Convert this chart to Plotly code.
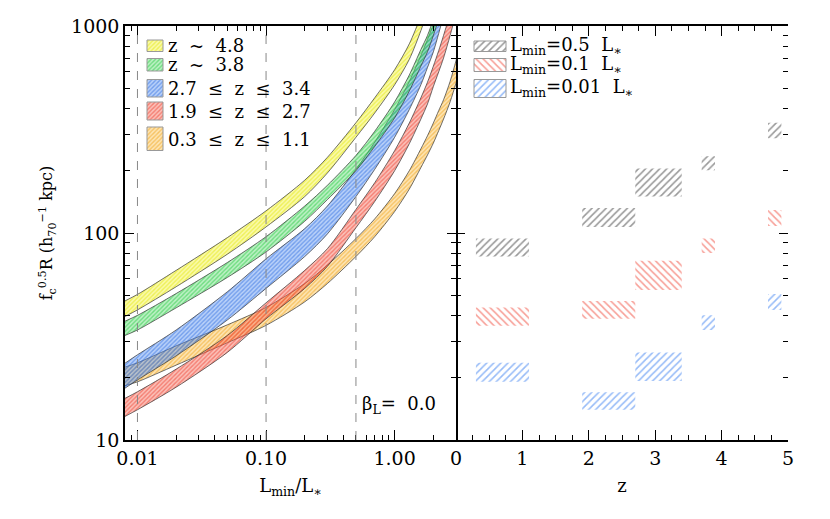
import numpy as np
import plotly.graph_objects as go

# === DATA ===
# left panel: band edges vs L_min/L*
lmin = [0.008, 0.01, 0.02, 0.05, 0.1, 0.2, 0.3, 0.5, 0.7, 1.0, 1.3, 1.6, 1.8, 2.0, 2.2, 2.4, 2.7, 3.0, 3.3]

yellow_hi = [47, 50.5, 66, 95, 128, 180, 232, 341, 450, 615, 820, 1120, 1400, 1750, 2200, 2700, 3500, 4500, 5500]
yellow_lo = [39.5, 42.5, 55, 79, 107, 150, 195, 290, 380, 520, 690, 950, 1180, 1500, 1850, 2300, 3000, 3800, 4700]
green_hi = [37.5, 40, 51, 72, 96, 135, 170, 237, 310, 430, 580, 770, 900, 1080, 1300, 1550, 2000, 2500, 3100]
green_lo = [32, 34, 43.5, 61, 81, 114, 145, 200, 262, 360, 485, 640, 750, 900, 1080, 1300, 1650, 2100, 2600]
blue_hi = [23.5, 25.8, 34, 52, 75, 105, 135, 203, 275, 395, 540, 720, 860, 1020, 1220, 1450, 1850, 2300, 2800]
blue_lo = [17.8, 19.5, 25.5, 38, 54, 77, 99, 150, 203, 290, 395, 520, 630, 750, 920, 1120, 1450, 1850, 2300]
red_hi = [15.9, 17.1, 22, 32, 46, 66, 84, 130, 175, 250, 340, 450, 535, 640, 760, 900, 1150, 1450, 1800]
red_lo = [13.0, 14.0, 18, 26.5, 38.5, 54, 69, 106, 142, 200, 270, 355, 420, 510, 600, 700, 900, 1150, 1450]
orange_hi = [22.5, 23.6, 28.5, 36, 43.7, 57, 70, 94, 117, 155, 200, 255, 295, 340, 390, 440, 540, 680, 860]
orange_lo = [18.3, 19.1, 23, 29.5, 35.8, 46.5, 57, 77, 96, 127, 163, 207, 238, 272, 312, 355, 430, 530, 660]

band_labels = ["z  ~  4.8", "z  ~  3.8", "2.7  ≤  z  ≤  3.4", "1.9  ≤  z  ≤  2.7", "0.3  ≤  z  ≤  1.1"]

# right panel: redshift bins and values at three L_min
z_lo = [0.3, 1.9, 2.7, 3.7, 4.7]
z_hi = [1.1, 2.7, 3.4, 3.9, 4.9]
r05_lo = [77, 107, 150, 201, 287]
r05_hi = [94, 132, 205, 235, 341]
r01_lo = [35.6, 38.5, 53, 80, 108]
r01_hi = [43.7, 47, 73.5, 94, 129]
r001_lo = [19.1, 14, 19.3, 34, 42.5]
r001_hi = [23.6, 17, 26.5, 40, 50.7]

lmin_labels = ["L<sub>min</sub>=0.5  L<sub>∗</sub>", "L<sub>min</sub>=0.1  L<sub>∗</sub>", "L<sub>min</sub>=0.01  L<sub>∗</sub>"]
lmin_marks = [0.01, 0.1, 0.5]

# === STYLE ===
FONT = "DejaVu Serif"
band_style = [
    ("#e2e600", "rgba(245,245,70,0.45)"),
    ("#1ec83a", "rgba(90,220,110,0.40)"),
    ("#2a6ae0", "rgba(80,140,240,0.40)"),
    ("#ee3a2a", "rgba(245,100,80,0.40)"),
    ("#f0a010", "rgba(250,190,70,0.40)"),
]
rect_style = [("#333333", "/"), ("#f04030", "\\"), ("#2f78f0", "/")]

fig = go.Figure()

bands = [(yellow_hi, yellow_lo), (green_hi, green_lo), (blue_hi, blue_lo),
         (red_hi, red_lo), (orange_hi, orange_lo)]
# draw back to front so yellow ends on top
for (hi, lo), (fg, bg) in reversed(list(zip(bands, band_style))):
    fig.add_trace(go.Scatter(
        x=lmin + lmin[::-1], y=hi + lo[::-1],
        fill="toself", fillcolor=bg, mode="lines",
        line=dict(color="#333333", width=0.7, shape="spline", smoothing=0.8),
        fillpattern=dict(shape="/", size=3, solidity=0.45, fgcolor=fg, bgcolor=bg),
        xaxis="x", yaxis="y", showlegend=False, hoverinfo="skip"))


def rect_path(x0s, x1s, y0s, y1s):
    xs, ys = [], []
    for a, b, c, d in zip(x0s, x1s, y0s, y1s):
        xs += [a, b, b, a, a, None]
        ys += [c, c, d, d, c, None]
    return xs, ys


for (lo, hi), (col, shp) in zip([(r05_lo, r05_hi), (r01_lo, r01_hi), (r001_lo, r001_hi)], rect_style):
    xs, ys = rect_path(z_lo, z_hi, lo, hi)
    fig.add_trace(go.Scatter(
        x=xs, y=ys, fill="toself", fillcolor="rgba(0,0,0,0)", mode="lines",
        line=dict(width=0, color="rgba(0,0,0,0)"),
        fillpattern=dict(shape=shp, size=5, solidity=0.32, fgcolor=col, bgcolor="rgba(0,0,0,0)"),
        xaxis="x2", yaxis="y2", showlegend=False, hoverinfo="skip"))

# === LEGEND SWATCHES (overlay axes in window pixels) ===
left_boxes = [(147, 163, 40, 51.5), (147, 163, 58.5, 71), (147, 163, 79.5, 97),
              (147, 163, 102, 120), (147, 163, 127, 150.5)]
left_text_y = [45, 64, 88, 111, 139]
for (x0, x1, y0, y1), (fg, bg), lab, ty in zip(left_boxes, band_style, band_labels, left_text_y):
    fig.add_trace(go.Scatter(
        x=[x0, x1, x1, x0, x0], y=[y0, y0, y1, y1, y0], fill="toself", fillcolor=bg,
        mode="lines", line=dict(color="#999999", width=1),
        fillpattern=dict(shape="/", size=3, solidity=0.45, fgcolor=fg, bgcolor=bg),
        xaxis="x3", yaxis="y3", showlegend=False, hoverinfo="skip"))
    fig.add_annotation(x=166, y=ty, xref="x3", yref="y3", text=lab, showarrow=False,
                       xanchor="left", yanchor="middle", font=dict(family=FONT, size=18, color="black"))

right_boxes = [(474, 506, 41, 51.5), (474, 506, 58.5, 71.5), (474, 506, 79.5, 97.5)]
right_text_y = [46, 65, 88]
for (x0, x1, y0, y1), (col, shp), lab, ty in zip(right_boxes, rect_style, lmin_labels, right_text_y):
    fig.add_trace(go.Scatter(
        x=[x0, x1, x1, x0, x0], y=[y0, y0, y1, y1, y0], fill="toself", fillcolor="rgba(0,0,0,0)",
        mode="lines", line=dict(color="#999999", width=1),
        fillpattern=dict(shape=shp, size=5, solidity=0.32, fgcolor=col, bgcolor="rgba(0,0,0,0)"),
        xaxis="x3", yaxis="y3", showlegend=False, hoverinfo="skip"))
    fig.add_annotation(x=508, y=ty, xref="x3", yref="y3", text=lab, showarrow=False,
                       xanchor="left", yanchor="middle", font=dict(family=FONT, size=18, color="black"))

fig.add_annotation(x=360, y=405, xref="x3", yref="y3", text="β<sub>L</sub>=  0.0", showarrow=False,
                   xanchor="left", yanchor="middle", font=dict(family=FONT, size=18, color="black"))

for m in lmin_marks:
    fig.add_shape(type="line", x0=m, x1=m, y0=0, y1=1, xref="x", yref="y domain",
                  line=dict(color="#888888", width=1, dash="dash"))

# === AXES ===
axis_common = dict(showline=True, linecolor="black", linewidth=1.5, mirror="ticks",
                   ticks="inside", tickcolor="black", tickwidth=1.2, showgrid=False, zeroline=False,
                   automargin=False, tickfont=dict(family=FONT, size=19, color="black"))

x_minor = [0.009] + [k / 100 for k in range(2, 10)] + [k / 10 for k in range(2, 10)] + [2, 3]
y_minor = [k * 10 for k in range(2, 10)] + [k * 100 for k in range(2, 10)]

# page body has an 8px margin, so the figure is sized to fit inside it
fig.update_layout(
    width=814, height=503,
    margin=dict(l=117, r=34, t=18, b=71, autoexpand=False),
    paper_bgcolor="white", plot_bgcolor="rgba(0,0,0,0)",
    xaxis=dict(axis_common, type="log", domain=[0, 331 / 663],
               range=[np.log10(0.008), np.log10(3.0)],
               tickvals=[0.01, 0.1, 1], ticktext=["0.01", "0.10", "1.00"], ticklen=10,
               minor=dict(tickmode="array", tickvals=x_minor, ticks="inside", ticklen=5,
                          tickcolor="black", tickwidth=1),
               title=dict(text="L<sub>min</sub>/L<sub>∗</sub>", font=dict(family=FONT, size=18, color="black"),
                          standoff=12),
               anchor="y"),
    yaxis=dict(axis_common, type="log", domain=[0, 1], range=[1, 3],
               tickvals=[10, 100, 1000], ticktext=["10", "100", "1000"], ticklen=9,
               minor=dict(tickmode="array", tickvals=y_minor, ticks="inside", ticklen=5,
                          tickcolor="black", tickwidth=1),
               title=dict(text="f<sub>c</sub><sup>0.5</sup>R (h<sub>70</sub><sup>−1</sup> kpc)",
                          font=dict(family=FONT, size=16, color="black"), standoff=14),
               anchor="x"),
    xaxis2=dict(axis_common, domain=[331 / 663, 1], range=[0, 5], dtick=1, tick0=0, ticklen=10,
                minor=dict(dtick=0.25, ticks="inside", ticklen=5, tickcolor="black", tickwidth=1),
                title=dict(text="z", font=dict(family=FONT, size=18, color="black"), standoff=12),
                anchor="y2"),
    yaxis2=dict(axis_common, type="log", domain=[0, 1], range=[1, 3], matches="y", showline=False,
                tickvals=[10, 100, 1000], ticklen=9, showticklabels=False,
                minor=dict(tickmode="array", tickvals=y_minor, ticks="inside", ticklen=5,
                           tickcolor="black", tickwidth=1),
                anchor="x2"),
    xaxis3=dict(domain=[0, 1], range=[125, 788], visible=False, anchor="y3", fixedrange=True),
    yaxis3=dict(domain=[0, 1], range=[440, 26], visible=False, anchor="x3", fixedrange=True),
)

fig.write_html("out.html")
